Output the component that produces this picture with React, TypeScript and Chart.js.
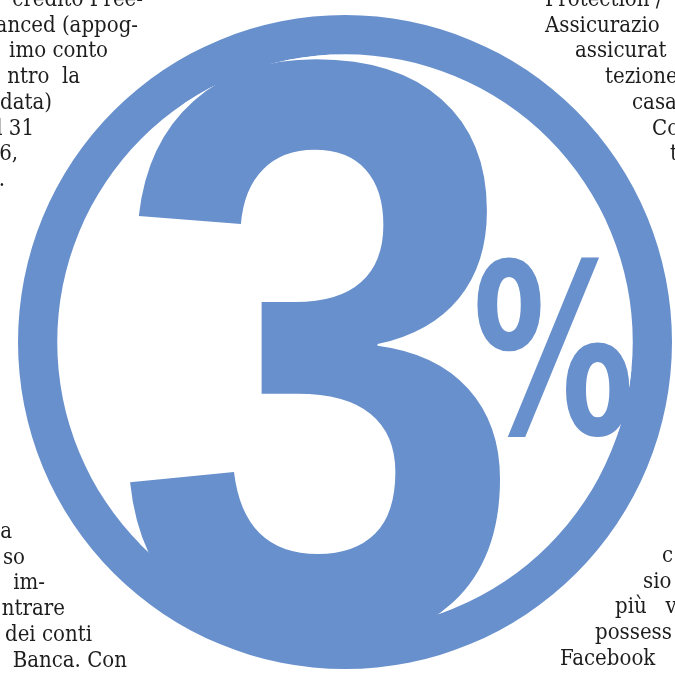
import { useEffect, useRef } from "react";
import { Chart, registerables } from "chart.js";

Chart.register(...registerables);

// ---- data ----
const ringLabels = ["3%"];
const ringValues = [100];
const bigDigit = "3";
const bigSymbol = "%";

const leftTopLines = ["credito Free-", "anced (appog-", "imo conto", "ntro  la", "data)", "l 31", "6,", "."];
const leftBottomLines = ["a", "so", "im-", "ntrare", "dei conti", "Banca. Con"];
const rightTopLines = ["Protection /", "Assicurazio", "assicurat", "tezione", "casa", "Co", "t"];
const rightBottomLines = ["c", "sio", "più   v", "possess", "Facebook"];

// ---- layout (kept apart from the data) ----
const W = 675;
const H = 676;
const BLUE = "#6890cc";
const INK = "#1d1d1d";
const TEXT_FONT = "22px 'DejaVu Serif Condensed', 'DejaVu Serif'";
const LINE_PITCH = 25.7;
const leftTopEnds = [143, 138, 108, 80, 52, 34, 18, 5];
const leftTopBase = 6;
const leftBottomEnds = [12, 25, 45, 65, 92, 127];
const leftBottomBase = 538;
const rightTopStarts = [545, 545, 575, 605, 632, 652, 670];
const rightTopBase = 6;
const rightBottomStarts = [662, 643, 615, 595, 560];
const rightBottomBase = 562;
// glyph boxes as fractions of outer radius, relative to centre: [left, top, right, bottom]
const digitBox = [-0.664, -0.869, 0.474, 0.927];
const symbolBox = [0.404, -0.26, 0.872, 0.291];

function drawGlyph(
  ctx: CanvasRenderingContext2D,
  text: string,
  font: string,
  box: number[],
  cx: number,
  cy: number,
  ro: number,
  ri: number,
  gap: number
) {
  ctx.save();
  ctx.font = font;
  ctx.textAlign = "left";
  ctx.textBaseline = "alphabetic";
  const m = ctx.measureText(text);
  const gw = m.actualBoundingBoxLeft + m.actualBoundingBoxRight;
  const gh = m.actualBoundingBoxAscent + m.actualBoundingBoxDescent;
  const X0 = cx + box[0] * ro;
  const X1 = cx + box[2] * ro;
  const Y0 = cy + box[1] * ro;
  const Y1 = cy + box[3] * ro;
  const sx = (X1 - X0) / gw;
  const sy = (Y1 - Y0) / gh;
  ctx.restore();

  // white halo, only inside the ring's hole
  ctx.save();
  ctx.beginPath();
  ctx.arc(cx, cy, ri, 0, Math.PI * 2);
  ctx.clip();
  ctx.translate(X0, Y0);
  ctx.scale(sx, sy);
  ctx.font = font;
  ctx.textAlign = "left";
  ctx.textBaseline = "alphabetic";
  ctx.lineJoin = "round";
  ctx.strokeStyle = "#ffffff";
  ctx.lineWidth = (2 * gap) / ((sx + sy) / 2);
  ctx.strokeText(text, m.actualBoundingBoxLeft, m.actualBoundingBoxAscent);
  ctx.restore();

  ctx.save();
  ctx.beginPath();
  ctx.arc(cx, cy, ro, 0, Math.PI * 2);
  ctx.clip();
  ctx.translate(X0, Y0);
  ctx.scale(sx, sy);
  ctx.font = font;
  ctx.textAlign = "left";
  ctx.textBaseline = "alphabetic";
  ctx.fillStyle = BLUE;
  ctx.fillText(text, m.actualBoundingBoxLeft, m.actualBoundingBoxAscent);
  ctx.restore();
}

const overlayPlugin = {
  id: "overlay",
  afterDatasetsDraw(chart: any) {
    const arc = chart.getDatasetMeta(0).data[0];
    const p = arc.getProps(["x", "y", "innerRadius", "outerRadius"], true);
    const ctx: CanvasRenderingContext2D = chart.ctx;
    drawGlyph(ctx, bigDigit, "bold 200px 'Liberation Sans'", digitBox, p.x, p.y, p.outerRadius, p.innerRadius, 5);
    drawGlyph(ctx, bigSymbol, "bold 200px 'DejaVu Sans'", symbolBox, p.x, p.y, p.outerRadius, p.innerRadius, 5);

    ctx.save();
    ctx.font = TEXT_FONT;
    ctx.fillStyle = INK;
    ctx.textBaseline = "alphabetic";
    ctx.textAlign = "right";
    leftTopLines.forEach((t, i) => ctx.fillText(t, leftTopEnds[i], leftTopBase + i * LINE_PITCH));
    leftBottomLines.forEach((t, i) => ctx.fillText(t, leftBottomEnds[i], leftBottomBase + i * LINE_PITCH));
    ctx.textAlign = "left";
    rightTopLines.forEach((t, i) => ctx.fillText(t, rightTopStarts[i], rightTopBase + i * LINE_PITCH));
    rightBottomLines.forEach((t, i) => ctx.fillText(t, rightBottomStarts[i], rightBottomBase + i * LINE_PITCH));
    ctx.restore();
  },
};

export default function App() {
  const ref = useRef<HTMLCanvasElement | null>(null);
  useEffect(() => {
    if (!ref.current) return;
    const chart = new Chart(ref.current, {
      type: "doughnut",
      data: {
        labels: ringLabels,
        datasets: [
          {
            data: ringValues,
            backgroundColor: [BLUE],
            borderWidth: 0,
            hoverOffset: 0,
          },
        ],
      },
      options: {
        responsive: false,
        animation: false,
        events: [],
        cutout: "88%",
        layout: { padding: { left: 18, right: 3, top: 15, bottom: 7 } },
        plugins: { legend: { display: false }, tooltip: { enabled: false } },
      },
      plugins: [overlayPlugin],
    });
    return () => chart.destroy();
  }, []);
  return (
    <div style={{ position: "fixed", left: 0, top: 0, width: W, height: H, background: "#fff" }}>
      <canvas ref={ref} width={W} height={H} style={{ width: W, height: H, display: "block" }} />
    </div>
  );
}
